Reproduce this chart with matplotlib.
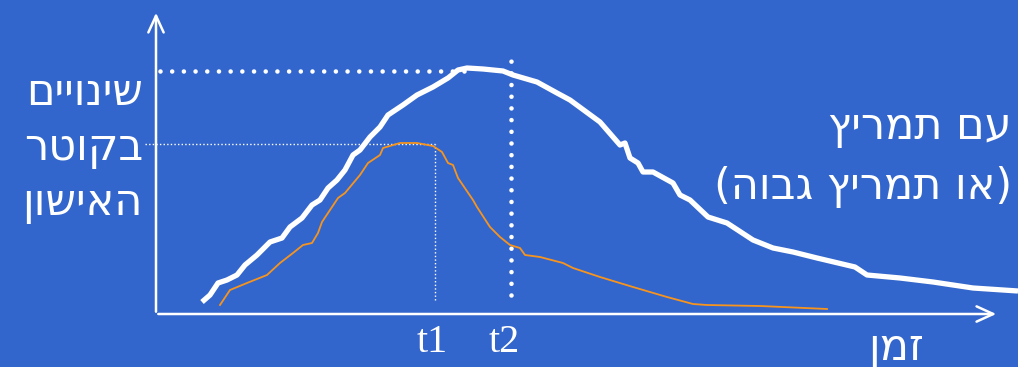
import matplotlib
matplotlib.use("Agg")
import matplotlib.pyplot as plt

plt.rcParams['font.family'] = ['DejaVu Sans']

BG = '#3366CC'
ORANGE = '#F7941D'

# pupil response with stimulus (white, thick)
white_t = [46, 54, 62, 71, 81, 89, 101, 114, 126, 134, 146, 156, 164, 172, 181, 189,
           197, 204, 214, 224, 232, 247, 261, 277, 292, 302, 311, 327, 347, 357,
           381, 401, 414, 444, 464, 469, 474, 482, 487, 497, 517, 524, 534, 552,
           571, 597, 617, 637, 661, 699, 711, 744, 777, 817, 862]
white_v = [12, 19, 31, 34, 39, 49, 59, 72, 76, 87, 96, 109, 114, 126, 134, 144,
           159, 164, 177, 187, 199, 209, 219, 227, 236, 244, 246, 245, 243, 239,
           232, 221, 214, 192, 169, 171, 156, 151, 142, 142, 131, 119, 114, 97,
           91, 74, 66, 62, 56, 47, 39, 36, 32, 26, 23]

# pupil response, first diameter (orange, thin)
orange_t = [64, 74, 91, 111, 124, 137, 147, 156, 162, 166, 182, 189, 204, 212,
            224, 227, 244, 261, 277, 286, 292, 297, 302, 317, 321, 334, 344, 354,
            364, 369, 384, 407, 417, 444, 477, 511, 537, 551, 604, 671]
orange_v = [9, 24, 31, 39, 51, 61, 69, 71, 81, 92, 116, 121, 139, 151, 159, 166,
            171, 171, 168, 162, 151, 149, 136, 114, 107, 87, 77, 69, 66, 59,
            57, 51, 46, 37, 27, 17, 10, 9, 8, 5]

t1 = 279
t2 = 355

y_label = ['שינויים', 'בקוטר', 'האישון']
curve_label = ['עם תמריץ', '(או תמריץ גבוה)']
x_label = 'זמן'

# the slide shows Hebrew in logical order left to right; the renderer flips RTL runs,
# so hand it the reversed string (with mirrored brackets swapped back)
def as_shown(s):
    return s[::-1].translate(str.maketrans('()', ')('))

fig = plt.figure(figsize=(10.18, 3.67), dpi=100, facecolor=BG)
ax = fig.add_axes([0, 0, 1, 1])
ax.set_facecolor(BG)
ax.set_xlim(-156, 862)
ax.set_ylim(-53, 314)
ax.axis('off')

# axes with open arrow heads
ax.annotate('', xy=(0, 304), xytext=(0, -0.5),
            arrowprops=dict(arrowstyle='->,head_length=1.2,head_width=0.55', color='white', lw=1.8))
ax.annotate('', xy=(843, 0), xytext=(-0.5, 0),
            arrowprops=dict(arrowstyle='->,head_length=1.2,head_width=0.55', color='white', lw=1.8))

white_peak = max(white_v) - 3
orange_peak = max(orange_v) - 1

# reference lines
ax.plot([4, 311], [white_peak, white_peak], color='white', lw=3.3,
        linestyle=(0, (0.001, 2.55)), dash_capstyle='round')
ax.plot([t2, t2], [19, 254], color='white', lw=3.3,
        linestyle=(0, (0.001, 2.55)), dash_capstyle='round')
ax.plot([-11, t1], [orange_peak, orange_peak], color='white', lw=1.0,
        linestyle=(0, (1, 1.6)))
ax.plot([t1, t1], [14, orange_peak], color='white', lw=1.0,
        linestyle=(0, (1, 1.6)))

ax.plot(white_t, white_v, color='white', lw=3.8, solid_capstyle='butt', solid_joinstyle='round')
ax.plot(orange_t, orange_v, color=ORANGE, lw=1.3)

# texts
ax.text(t1 - 3, -29, 't1', color='white', fontsize=29, family='Liberation Serif',
        ha='center', va='center')
ax.text(t2 - 7, -29, 't2', color='white', fontsize=29, family='Liberation Serif',
        ha='center', va='center')
for y, line in zip([221, 166, 111], y_label):
    ax.text(-13, y, as_shown(line), color='white', fontsize=31,
            ha='right', va='center')
ax.text(856, 187, as_shown(curve_label[0]), color='white', fontsize=31, ha='right', va='center')
ax.text(856, 127, as_shown(curve_label[1]), color='white', fontsize=31, ha='right', va='center')
ax.text(740, -34, as_shown(x_label), color='white', fontsize=31, ha='center', va='center')

fig.savefig('out.png', dpi=100, facecolor=BG)
